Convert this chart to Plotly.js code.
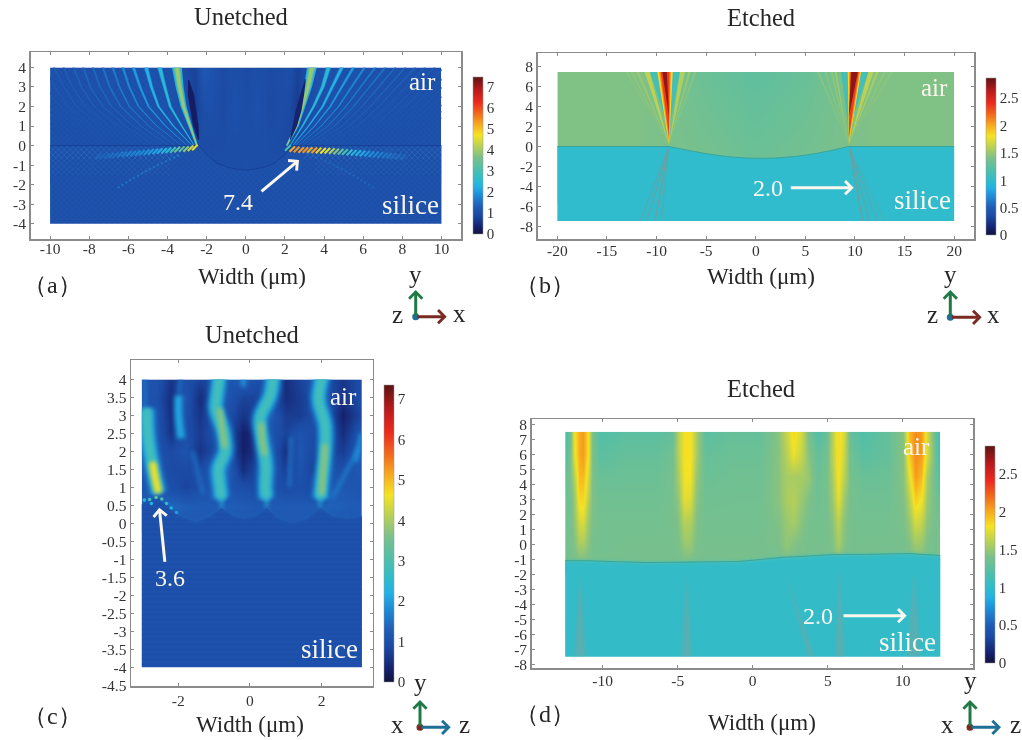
<!DOCTYPE html>
<html><head><meta charset="utf-8">
<script src="https://cdn.plot.ly/plotly-3.0.1.min.js"></script>
<style>html,body{margin:0;padding:0;background:#fff}#chart{width:1022px;height:740px;filter:blur(0.5px)}
.subplot.x3y3 .scatterlayer .js-line{filter:blur(2.2px)}
.subplot.xy .scatterlayer .js-fill{filter:blur(0.5px)}
.subplot.x4y4 .scatterlayer .js-fill{filter:blur(1.6px)}
.subplot.x2y2 .scatterlayer .js-fill{filter:blur(0.4px)}
</style>
</head><body><div id="chart"></div>
<script>
// ---------- values ----------
const ticksAx=[-10,-8,-6,-4,-2,0,2,4,6,8,10], ticksAy=[-4,-3,-2,-1,0,1,2,3,4];
const ticksBx=[-20,-15,-10,-5,0,5,10,15,20], ticksBy=[-8,-6,-4,-2,0,2,4,6,8];
const ticksCx=[-2,0,2], ticksCy=[-4.5,-4,-3.5,-3,-2.5,-2,-1.5,-1,-0.5,0,0.5,1,1.5,2,2.5,3,3.5,4];
const ticksDx=[-10,-5,0,5,10], ticksDy=[-8,-7,-6,-5,-4,-3,-2,-1,0,1,2,3,4,5,6,7,8];
const barTicksA=[0,1,2,3,4,5,6,7], barTicksB=[0,0.5,1,1.5,2,2.5];

// panel a: background and interface
const aBaseX=[-10,-3.4,-3,-2.6,-2.2,-1.8,-1.2,-0.6,0,0.6,1.2,1.8,2.2,2.6,3,3.4,10];
const aBaseY=[-1.3,0,2,4];
const aBaseZ=[
 [1,1,1,1,1,1,1,1,1,1,1,1,1,1,1,1,1],
 [1,1,1,1,0.95,0.92,0.95,0.98,1,0.98,0.95,0.92,0.85,1,1,1,1],
 [1,1,1,0.75,1,1.05,0.9,1.05,0.95,1.05,0.9,0.95,0.9,0.7,1,1,1],
 [1,1,0.85,0.8,1.25,1.1,0.92,1,0.9,1,0.92,0.95,1.0,0.8,0.9,1,1]];
const aIfaceX=[-10,-2.35,-2,-1.47,-1,-0.5,0,0.5,1,1.47,2,2.35,10];
const aIfaceY=[0,0,-0.47,-0.9,-1.08,-1.2,-1.25,-1.2,-1.08,-0.9,-0.47,0,0];
const aLevels=[0,1,2,3,4];
const aRightX=[[2.1,2.61,2.9,3.18,3.38],[2.27,2.9,3.47,3.93,4.23],[2.41,3.21,3.93,4.44,4.91],[2.53,3.52,4.32,4.91,5.5],[2.7,3.86,4.74,5.39,6.07],[2.9,4.2,5.12,5.85,6.62],[3.12,4.54,5.51,6.31,7.13],[3.38,4.92,5.94,6.79,7.64],[3.65,5.3,6.37,7.27,8.15],[3.95,5.7,6.8,7.75,8.65],[4.25,6.1,7.25,8.2,9.15],[4.55,6.5,7.7,8.65,9.65],[4.85,6.9,8.15,9.12,10.15],[5.15,7.3,8.6,9.6,10.65],[5.5,7.7,9.05,10.05,11.15],[5.85,8.1,9.5,10.55,11.6],[6.2,8.5,9.95,11,12],[6.55,8.95,10.4,11.5,12.5],[6.9,9.4,10.9,12,13]];
const aLeftX=[[-2.5,-2.84,-3.18,-3.38,-3.52],[-2.63,-3.27,-3.86,-4.15,-4.4],[-2.75,-3.7,-4.46,-4.82,-5.09],[-3,-4.1,-4.97,-5.4,-5.74],[-3.27,-4.55,-5.48,-5.95,-6.28],[-3.6,-4.95,-5.95,-6.45,-6.8],[-3.95,-5.35,-6.4,-6.95,-7.3],[-4.3,-5.75,-6.85,-7.45,-7.8],[-4.65,-6.15,-7.3,-7.95,-8.3],[-5,-6.55,-7.75,-8.4,-8.8],[-5.35,-7,-8.2,-8.85,-9.3],[-5.7,-7.4,-8.65,-9.3,-9.8],[-6.05,-7.8,-9.1,-9.75,-10.3],[-6.4,-8.2,-9.55,-10.2,-10.8],[-6.75,-8.6,-10,-10.7,-11.3],[-7.1,-9,-10.45,-11.2,-11.8],[-7.45,-9.4,-10.9,-11.7,-12.3],[-7.8,-9.8,-11.4,-12.2,-12.8],[-8.15,-10.2,-11.9,-12.7,-13.3]];
const aStripeV=[3.4,2.5,2.3,2.0,1.8,1.65,1.55,1.45,1.4,1.35,1.3,1.28,1.25,1.22,1.2,1.2,1.18,1.18,1.15];
const aStripeHalf=[0.17,0.09,0.08,0.065,0.055,0.05,0.05,0.045,0.045,0.045,0.04,0.04,0.04,0.04,0.04,0.04,0.04,0.04,0.04];
const aStripeCore=[3.9,0,0,0,0,0,0,0,0,0,0,0,0,0,0,0,0,0,0];
const aDarkRY=[0.3,1,1.8,2.6,3.4], aDarkRX=[2.27,2.5,2.7,2.88,3.05], aDarkLY=[0.3,1,1.82,2.6,3.36], aDarkLX=[-2.41,-2.55,-2.67,-2.8,-2.92];
const aDarkRHalf=[0.02,0.12,0.15,0.1,0.02], aDarkLHalf=[0.03,0.14,0.16,0.16,0.03];
const aDashRX=[2.15,2.38,2.6,2.83,3.05,3.27,3.5,3.72,3.95,4.17,4.4,4.62,4.85,5.07,5.3,5.52,5.75,5.97,6.2,6.42,6.65,6.87,7.1,7.32,7.55,7.8,8.05];
const aDashRY=[-0.12,-0.18,-0.2,-0.22,-0.22,-0.22,-0.24,-0.25,-0.26,-0.26,-0.28,-0.3,-0.32,-0.33,-0.35,-0.37,-0.38,-0.4,-0.42,-0.44,-0.46,-0.48,-0.5,-0.52,-0.55,-0.57,-0.6];
const aDashRV=[3,5.2,5.4,5.3,5.4,5.2,5.3,4.9,4.7,4.5,4.2,3.8,3.4,3,2.7,2.4,2.3,2.15,2,1.9,1.8,1.7,1.6,1.6,1.5,1.5,1.4];
const aDashLX=[-2.6,-2.82,-3.05,-3.27,-3.5,-3.72,-3.95,-4.17,-4.4,-4.62,-4.85,-5.07,-5.3,-5.52,-5.75,-5.97,-6.2,-6.42,-6.65,-6.87,-7.1,-7.32,-7.55];
const aDashLY=[-0.1,-0.14,-0.17,-0.18,-0.2,-0.22,-0.24,-0.26,-0.28,-0.3,-0.32,-0.34,-0.36,-0.38,-0.4,-0.42,-0.44,-0.46,-0.48,-0.5,-0.52,-0.54,-0.56];
const aDashLV=[4.5,4.3,3.8,3.2,3.4,2.9,2.5,2.4,2.2,2.1,2,1.9,1.8,1.8,1.7,1.7,1.6,1.6,1.5,1.5,1.4,1.4,1.4];
const aRayLX=[-3.4,-4.2,-5,-5.8,-6.6], aRayLY=[-0.5,-0.85,-1.25,-1.7,-2.2], aRayRX=[3.4,4.2,5,5.8,6.6], aRayRY=[-0.5,-0.85,-1.25,-1.7,-2.2];

// panel b
const bBaseX=[-20,-12,-9,-5,0,5,9,12,20], bBaseY=[-1.3,7.5];
const bBaseZ=[[1.42,1.42,1.4,1.38,1.33,1.37,1.4,1.42,1.42],[1.42,1.42,1.4,1.32,1.27,1.31,1.4,1.42,1.42]];
const bIfaceX=[-20,-8.74,-7,-5,-3,-1,0.5,2,4,6,8,9.38,20];
const bIfaceY=[0,0,-0.35,-0.72,-1,-1.16,-1.2,-1.16,-1,-0.72,-0.32,0,0];
const bLeftApex=[-8.74,0.15], bRightApex=[9.38,0.15];
const bLeftL=[-13.1,-12.6,-12.05,-11.2,-10.65,-8.37,-7.64,-6.8,-6.2,-9.92,-9.72,-9.58,-9.41];
const bLeftR=[-12.95,-12.4,-11.75,-10.7,-9.92,-7.64,-7.13,-6.56,-6,-8.37,-8.57,-8.7,-8.97];
const bLeftV=[1.47,1.48,1.5,1.62,1.12,1.12,1.58,1.5,1.46,1.85,2.1,2.35,2.75];
const bLeftApexY=[0.15,0.15,0.15,0.15,1.6,1.6,0.15,0.15,0.15,0.15,0.5,1,3];
const bRightL=[6.2,6.95,7.55,7.95,8.6,10.62,11.36,12.1,12.9,13.6,9.28,9.42,9.55,9.62];
const bRightR=[6.4,7.1,7.75,8.15,9.28,11.36,11.86,12.4,13.1,13.8,10.62,10.5,10.38,10.28];
const bRightV=[1.46,1.46,1.48,1.52,1.12,1.12,1.62,1.54,1.48,1.46,1.85,2.1,2.35,2.75];
const bRightApexY=[0.15,0.15,0.15,0.15,1.6,1.6,0.15,0.15,0.15,0.15,0.15,0.5,1,3];
const bRayLEnd=[-11.66,-10.98,-10.15,-9.48], bRayREnd=[10.78,11.46,12.26,12.97];
const bRayLOp=[0.45,0.55,0.8,0.45], bRayROp=[0.8,0.55,0.45,0.3];

// panel c
const cBaseX=[-3,-2.6,-2.2,-1.8,-1.4,-1,-0.6,-0.2,0.2,0.6,1,1.4,1.8,2.2,2.6,3.13];
const cBaseY=[0,0.5,1,1.5,2,2.5,3,3.5,4];
const cRow4=[1,1.1,0.6,1,0.8,0.9,1.1,1.3,1,1.2,0.5,0.8,1.1,0.9,0.6,1];
const cRow35=[1.1,1,0.5,1.1,0.5,0.9,1.1,0.8,0.8,1.1,0.5,0.7,1,1,0.6,1];
const cRow3=[1.2,1.1,0.5,1,0.6,1,1,0.6,0.8,1.2,0.7,0.7,1,1,0.3,0.9];
const cRow25=[1.3,1.1,0.6,1,0.7,1,1,0.3,0.5,1.1,0.8,1.1,0.9,1.1,0.5,1.2];
const cRow2=[1.3,1.1,0.9,1.1,0.6,0.9,1.1,0.3,0.6,1.2,0.5,1.2,0.8,0.9,0.7,1.3];
const cRow15=[1.2,1.2,0.9,0.9,0.9,1.3,1.3,0.5,0.9,1.2,0.7,1.1,0.7,1.1,1,1.2];
const cRow1=[1.1,1.3,1,0.8,1,1.2,1.1,1,0.9,1.1,0.9,1,0.9,1.2,1.2,1.1];
const cRow05=[1.3,1.4,1.4,1.3,1.25,1.25,1.3,1.25,1.2,1.25,1.25,1.25,1.25,1.35,1.3,1.25];
const cRow0=[1.2,1.2,1.2,1.2,1.2,1.2,1.2,1.2,1.2,1.2,1.2,1.2,1.2,1.2,1.2,1.2];
const cIfaceX=[-3.02,-2.6,-2.3,-2,-1.5,-1.1,-0.8,-0.5,-0.15,0.2,0.47,0.8,1.2,1.6,1.97,2.3,2.7,3.13];
const cIfaceY=[0.53,0.72,0.5,0.22,0.02,0.2,0.42,0.22,0.12,0.22,0.42,0.12,0,0.12,0.42,0.2,0.12,0.2];
const cStreak1X=[-2.88,-2.85,-2.74,-2.63,-2.55], cStreak1Y=[3.19,2.45,1.71,1.16,0.85];
const cStreak2X=[-0.83,-0.92,-0.95,-0.74,-0.69,-0.875,-0.83,-0.8], cStreak2Y=[4.2,3.56,3.19,2.55,1.99,1.53,0.97,0.7];
const cStreak3X=[0.66,0.57,0.29,0.35,0.45,0.43,0.46], cStreak3Y=[4.2,3.56,2.92,2.27,1.62,0.97,0.7];
const cStreak4X=[2.06,1.92,2.1,2.1,2.01,1.97], cStreak4Y=[4.2,3.47,2.73,2,1.16,0.7];
const cTailX=[-0.79,0.47,1.96], cTailTop=[0.95,0.95,0.95], cTailEnd=[0.44,0.44,0.46];
const cSmallX=[-1.99,-1.99,-1.92], cSmallY=[3.56,3.01,2.36];
const cCore1X=[-2.72,-2.64,-2.55], cCore1Y=[1.7,1.25,0.85];
const cCore2X=[-0.85,-0.76,-0.7], cCore2Y=[3.2,2.55,2.1];
const cCore3X=[0.32,0.35,0.42], cCore3Y=[2.8,2.3,1.9];
const cCore4X=[2.1,2.06,2.0], cCore4Y=[2.2,1.6,0.8];
const cFaintX0=[2.3,1.1,-1.3,-0.18,-2.92,-1.92,2.95], cFaintY0=[0.7,1,0.8,3.8,3.2,4.1,1.7];
const cFaintX1=[3.05,1.15,-1.6,-0.18,-2.95,-1.98,3.12], cFaintY1=[2.1,2.4,2,4.1,4.1,3.6,2.5];
const cFaintV=[1.6,1.5,1.45,2,1.5,1.45,1.9];
const cDotX=[-2.95,-2.8,-2.62,-2.46,-2.33,-2.2,-2.05,-2.75], cDotY=[0.65,0.66,0.72,0.68,0.55,0.43,0.3,0.55];
const cDotV=[2.6,2.8,3.2,3,2.6,2.3,2,2.2];

// panel d
const dBaseX=[-12.5,-12.2,-11.9,-11.6,-11.3,-11,-10.7,-10.2,-8.5,-6.5,-5.4,-5,-4.6,-4.2,-3.8,-3.2,-1.5,0.5,1.7,2.2,2.7,3.2,3.7,4.3,4.9,5.3,5.7,6.1,6.5,7.3,9,10,10.4,10.8,11.2,11.6,12.5];
const dBaseY=[-1.3,0,1.5,3,4.5,6,7.5];
const dRow75=[1.15,1.35,1.8,2,2.05,1.8,1.4,1.2,1.25,1.25,1.3,1.6,1.82,1.82,1.55,1.25,1.3,1.3,1.45,1.65,1.85,1.7,1.4,1.2,1.3,1.6,1.85,1.7,1.3,1.2,1.3,1.45,1.95,2.1,2.05,1.7,1.05];
const dRow6=[1.2,1.4,1.75,2,2.05,1.8,1.4,1.25,1.3,1.3,1.35,1.6,1.82,1.82,1.55,1.3,1.33,1.33,1.45,1.6,1.78,1.65,1.45,1.3,1.35,1.6,1.85,1.65,1.35,1.25,1.3,1.45,1.9,2.1,2.05,1.7,1.1];
const dRow45=[1.3,1.4,1.6,1.95,1.95,1.7,1.4,1.32,1.33,1.33,1.38,1.55,1.8,1.8,1.5,1.33,1.35,1.35,1.45,1.55,1.55,1.55,1.5,1.33,1.38,1.55,1.82,1.6,1.38,1.32,1.33,1.45,1.75,2.05,1.95,1.55,1.2];
const dRow3=[1.33,1.38,1.5,1.85,1.85,1.6,1.42,1.35,1.35,1.35,1.38,1.48,1.75,1.72,1.45,1.35,1.36,1.36,1.45,1.55,1.6,1.5,1.42,1.35,1.38,1.5,1.75,1.5,1.38,1.35,1.35,1.42,1.6,1.88,1.8,1.5,1.3];
const dRow15=[1.35,1.38,1.48,1.7,1.72,1.5,1.4,1.37,1.37,1.37,1.38,1.43,1.6,1.58,1.42,1.37,1.37,1.37,1.42,1.5,1.55,1.45,1.38,1.37,1.38,1.45,1.62,1.45,1.38,1.37,1.37,1.4,1.5,1.7,1.65,1.45,1.35];
const dRow0=[1.37,1.38,1.43,1.55,1.55,1.45,1.38,1.37,1.38,1.38,1.38,1.4,1.5,1.5,1.4,1.38,1.38,1.38,1.4,1.48,1.43,1.4,1.38,1.38,1.38,1.42,1.55,1.42,1.38,1.38,1.38,1.38,1.42,1.52,1.5,1.4,1.37];
const dRowBase=[1.38,1.38,1.38,1.38,1.38,1.38,1.38,1.38,1.38,1.38,1.38,1.38,1.38,1.38,1.38,1.38,1.38,1.38,1.38,1.38,1.38,1.38,1.38,1.38,1.38,1.38,1.38,1.38,1.38,1.38,1.38,1.38,1.38,1.38,1.38,1.38,1.38];
const dIfaceX=[-12.5,-11,-9,-7,-5,-3,-1,0.5,2,3.5,5.5,7.5,10.5,12.5];
const dIfaceY=[-1.05,-1.1,-1.17,-1.22,-1.2,-1.2,-1.15,-1.02,-0.87,-0.8,-0.68,-0.68,-0.62,-0.76];
const dShadowTopX=[-11.5,-4.4,2.2,5.8,10.75], dShadowEndX=[-11.5,-4.4,3.9,5.8,10.75];
const dShadowTopY=[-2,-2,-2,-1.5,-1.8], dShadowHalf=[0.38,0.34,0.2,0.3,0.42];

// ---------- colour scale (same for all panels) ----------
const scalePos=[0,0.04,0.12,0.17,0.25,0.30,0.35,0.42,0.49,0.56,0.63,0.70,0.76,0.84,0.92,1];
const scaleHex=['#12123c','#151f6a','#1b4aa4','#1f5ab4','#1d8ed8','#23b0e6','#30bccb','#52bfa8','#7cc08a','#b9d155','#f5e324','#f7a81f','#f2701c','#ec2a1e','#b81a1c','#5c1414'];
const colorscale=scalePos.map((p,i)=>[p,scaleHex[i]]);
const rgb=h=>[1,3,5].map(i=>parseInt(h.slice(i,i+2),16));
function colorOf(v,zmax){
  const t=Math.min(1,Math.max(0,v/zmax));
  let i=0; while(i<scalePos.length-2 && t>scalePos[i+1]) i++;
  const f=(t-scalePos[i])/(scalePos[i+1]-scalePos[i]), a=rgb(scaleHex[i]), b=rgb(scaleHex[i+1]);
  return 'rgb('+a.map((c,k)=>Math.round(c+(b[k]-c)*f)).join(',')+')';
}

// ---------- layout helpers: pixel boxes ----------
const W=1022,H=740;
const px=x=>x/W, py=y=>1-y/H;
const frames={
 a:{l:30.5,r:461,t:52,b:239,xr:[-11,11],yr:[-4.78,4.79],hx:[-10,10],hy:[-4,4],tx:ticksAx,ty:ticksAy,cb:[472.5,77,157],zmax:7.45,so:-5},
 b:{l:537.5,r:974,t:53,b:239,xr:[-22,22],yr:[-9.3,9.4],hx:[-20,20],hy:[-7.5,7.5],tx:ticksBx,ty:ticksBy,cb:[986,78,157],zmax:2.87,so:-3},
 c:{l:131,r:372.7,t:360,b:686,xr:[-3.32,3.43],yr:[-4.52,4.54],hx:[-3.02,3.13],hy:[-4,4],tx:ticksCx,ty:ticksCy,cb:[384,385,297],zmax:7.35,so:0},
 d:{l:531.7,r:973.3,t:419.3,b:668.3,xr:[-14.73,14.7],yr:[-8.27,8.33],hx:[-12.5,12.5],hy:[-7.5,7.5],tx:ticksDx,ty:ticksDy,cb:[985,446,217],zmax:2.87,so:-2}
};
// heat axes (clip the field to its rectangle) and frame axes (carry the ticks)
const ids={a:['x','y','xaxis','yaxis','x5','y5','xaxis5','yaxis5'],b:['x2','y2','xaxis2','yaxis2','x6','y6','xaxis6','yaxis6'],c:['x3','y3','xaxis3','yaxis3','x7','y7','xaxis7','yaxis7'],d:['x4','y4','xaxis4','yaxis4','x8','y8','xaxis8','yaxis8']};
const traces=[];
const layout={width:W,height:H,margin:{l:0,r:0,t:0,b:0,autoexpand:false},paper_bgcolor:'#fff',plot_bgcolor:'rgba(0,0,0,0)',showlegend:false,
  font:{family:'"Liberation Serif",serif',color:'#2b2b2b'},annotations:[],shapes:[]};

Object.keys(frames).forEach(k=>{
  const f=frames[k],id=ids[k];
  const tf={size:15.5,color:'#333',family:'"Liberation Serif",serif'};
  const ax={showgrid:false,zeroline:false,showline:true,mirror:'ticks',linecolor:'#8b8b8b',linewidth:1.5,ticks:'inside',ticklen:3,tickwidth:1,tickcolor:'#8b8b8b',tickmode:'array',tickfont:tf};
  layout[id[6]]=Object.assign({},ax,{domain:[px(f.l),px(f.r)],range:f.xr,anchor:id[5],tickvals:f.tx,ticktext:f.tx.map(String),ticklabelstandoff:f.so});
  layout[id[7]]=Object.assign({},ax,{domain:[py(f.b),py(f.t)],range:f.yr,anchor:id[4],tickvals:f.ty,ticktext:f.ty.map(String)});
  const hl=f.l+(f.hx[0]-f.xr[0])/(f.xr[1]-f.xr[0])*(f.r-f.l), hr=f.l+(f.hx[1]-f.xr[0])/(f.xr[1]-f.xr[0])*(f.r-f.l);
  const hb=f.b-(f.hy[0]-f.yr[0])/(f.yr[1]-f.yr[0])*(f.b-f.t), ht=f.b-(f.hy[1]-f.yr[0])/(f.yr[1]-f.yr[0])*(f.b-f.t);
  layout[id[2]]={visible:false,domain:[px(hl),px(hr)],range:f.hx,anchor:id[1],fixedrange:true};
  layout[id[3]]={visible:false,domain:[py(hb),py(ht)],range:f.hy,anchor:id[0],fixedrange:true};
});

function heat(k,x,y,z,ticks,labels){
  const f=frames[k];
  traces.push({type:'heatmap',x,y,z,xaxis:ids[k][0],yaxis:ids[k][1],zsmooth:'best',zmin:0,zmax:f.zmax,colorscale,hoverinfo:'skip',
    colorbar:{x:px(f.cb[0]),xanchor:'left',xref:'paper',y:py(f.cb[1]),yanchor:'top',yref:'paper',thickness:9.5,thicknessmode:'pixels',len:f.cb[2],lenmode:'pixels',
      xpad:0,ypad:0,outlinewidth:0.5,outlinecolor:'#999',borderwidth:0,ticks:'',tickmode:'array',tickvals:ticks,ticktext:labels||ticks.map(String),
      tickfont:{size:15,color:'#333',family:'"Liberation Serif",serif'}}});
  traces.push({type:'scatter',mode:'markers',x:[f.hx[0]],y:[f.hy[0]],xaxis:ids[k][4],yaxis:ids[k][5],marker:{size:1,opacity:0},hoverinfo:'skip'});
}
function poly(k,x,y,fill,extra){
  traces.push(Object.assign({type:'scatter',mode:'lines',x,y,xaxis:ids[k][0],yaxis:ids[k][1],fill:'toself',fillcolor:fill,line:{width:0},hoverinfo:'skip'},extra||{}));
}
function line(k,x,y,color,width,extra){
  traces.push(Object.assign({type:'scatter',mode:'lines',x,y,xaxis:ids[k][0],yaxis:ids[k][1],line:{color,width},hoverinfo:'skip'},extra||{}));
}
function ribbon(k,xs,ys,half,fill,taper){
  const t=ys.map((y,i)=>half*(taper+(1-taper)*i/(ys.length-1)));
  poly(k,xs.map((x,i)=>x-t[i]).concat(xs.map((x,i)=>x+t[i]).reverse()),ys.concat(ys.slice().reverse()),fill);
}
function lens(k,xs,ys,halves,fill){
  poly(k,xs.map((x,i)=>x-halves[i]).concat(xs.map((x,i)=>x+halves[i]).reverse()),ys.concat(ys.slice().reverse()),fill);
}
function silica(k,X,Y,bottom,value,extra){
  // the outline runs past the clip rectangle so blurred edges stay solid
  const n=X.length,pad=X[n-1]-X[0],drop=Math.abs(bottom);
  poly(k,[X[0]-pad].concat(X,[X[n-1]+pad,X[n-1]+pad,X[0]-pad]),[Y[0]].concat(Y,[Y[n-1],bottom-drop,bottom-drop]),colorOf(value,frames[k].zmax),extra);
}

// ---------- panel a ----------
const hatch=(size,sol,col,op)=>({fillpattern:{shape:'x',size,solidity:sol,fgcolor:col,fgopacity:op,fillmode:'overlay'}});
heat('a',aBaseX,aBaseY,aBaseZ,barTicksA);
[[3.6,10],[-10,-3.6]].forEach(r=>poly('a',[r[0],r[1],r[1],r[0]],[0,0,4,4],'rgba(0,0,0,0)',hatch(4,0.2,'#3a86cf',0.22)));
aLeftX.concat(aRightX).forEach((xs,i)=>{
  const j=i%aStripeV.length,v=aStripeV[j];
  ribbon('a',xs,aLevels,aStripeHalf[j]*1.5,colorOf(1+(v-1)*0.5,7.45),0.2);
  ribbon('a',xs,aLevels,aStripeHalf[j],colorOf(v,7.45),0.15);
  if(aStripeCore[j]) ribbon('a',xs,aLevels,aStripeHalf[j]*0.55,colorOf(aStripeCore[j],7.45),0.3);
});
lens('a',aDarkRX,aDarkRY,aDarkRHalf,colorOf(0.35,7.45));
lens('a',aDarkLX,aDarkLY,aDarkLHalf,colorOf(0.25,7.45));
silica('a',aIfaceX,aIfaceY,-4,1,Object.assign({line:{width:1,color:colorOf(0.75,7.45)}},hatch(4,0.14,'#3a86cf',0.28)));
[[3,10],[-10,-3.4]].forEach(r=>poly('a',[r[0],r[1],r[1],r[0]],[-0.05,-0.05,-0.7,-0.7],'rgba(0,0,0,0)',hatch(4,0.22,'#4ca8dc',0.4)));
[[3.5,10],[-10,-3.9]].forEach(r=>poly('a',[r[0],r[1],r[1],r[0]],[-0.7,-0.7,-1.5,-1.5],'rgba(0,0,0,0)',hatch(4,0.2,'#4ca8dc',0.2)));
line('a',aRayLX,aRayLY,'',0,{line:{color:colorOf(1.6,7.45),width:2,dash:'2px,2.5px'}});
line('a',aRayRX,aRayRY,'',0,{line:{color:colorOf(1.4,7.45),width:2,dash:'2px,2.5px'}});
[[aDashRX,aDashRY,aDashRV],[aDashLX,aDashLY,aDashLV]].forEach(s=>s[0].forEach((x,i)=>{
  line('a',[x-0.14,x+0.14],[s[1][i]-0.14,s[1][i]+0.14],colorOf(s[2][i],7.45),2.1);
}));

// ---------- panel b ----------
heat('b',bBaseX,bBaseY,bBaseZ,barTicksB);
bLeftL.forEach((l,i)=>poly('b',[bLeftApex[0],l,bLeftR[i]],[bLeftApexY[i],7.5,7.5],colorOf(bLeftV[i],2.87)));
bRightL.forEach((l,i)=>poly('b',[bRightApex[0],l,bRightR[i]],[bRightApexY[i],7.5,7.5],colorOf(bRightV[i],2.87)));
silica('b',bIfaceX,bIfaceY,-7.5,1,{line:{width:1,color:'#3aa59a'}});
bRayLEnd.forEach((e,i)=>line('b',[bLeftApex[0]-0.1,e],[-0.3,-7.5],'#7b9a96',1.5,{opacity:bRayLOp[i]}));
bRayREnd.forEach((e,i)=>line('b',[bRightApex[0]+0.1,e],[-0.3,-7.5],'#7b9a96',1.5,{opacity:bRayROp[i]}));

// ---------- panel c ----------
heat('c',cBaseX,cBaseY,[cRow0,cRow05,cRow1,cRow15,cRow2,cRow25,cRow3,cRow35,cRow4],barTicksA);
cFaintX0.forEach((x,i)=>line('c',[x,cFaintX1[i]],[cFaintY0[i],cFaintY1[i]],colorOf(cFaintV[i],7.35),4));
cTailX.forEach((x,i)=>{
  line('c',[x,x],[cTailTop[i],cTailEnd[i]+0.2],colorOf(2.2,7.35),6);
  line('c',[x,x],[cTailTop[i]-0.2,cTailEnd[i]],colorOf(2.4,7.35),2.5);
});
[[cStreak1X,cStreak1Y],[cStreak2X,cStreak2Y],[cStreak3X,cStreak3Y],[cStreak4X,cStreak4Y]].forEach(s=>{
  line('c',s[0],s[1],'',0,{line:{color:colorOf(1.7,7.35),width:19,shape:'spline'},opacity:0.5});
  line('c',s[0],s[1],'',0,{line:{color:colorOf(2.3,7.35),width:13,shape:'spline'}});
  line('c',s[0],s[1],'',0,{line:{color:colorOf(2.9,7.35),width:7,shape:'spline'}});
});
line('c',cSmallX,cSmallY,'',0,{line:{color:colorOf(2.1,7.35),width:8,shape:'spline'}});
[[cCore1X,cCore1Y,4.6,7],[cCore2X,cCore2Y,3.7,6],[cCore3X,cCore3Y,3.7,6],[cCore4X,cCore4Y,3.7,6]].forEach(s=>{
  line('c',s[0],s[1],'',0,{line:{color:colorOf(s[2],7.35),width:s[3],shape:'spline'}});
});
silica('c',cIfaceX,cIfaceY,-4,1,{line:{width:0.8,color:colorOf(1.5,7.35)},fillpattern:{shape:'-',size:5,solidity:0.2,fgcolor:'#2a63b8',fgopacity:0.25,fillmode:'overlay'}});
traces.push({type:'scatter',mode:'markers',x:cDotX,y:cDotY,xaxis:'x3',yaxis:'y3',hoverinfo:'skip',marker:{size:3.5,color:cDotV.map(v=>colorOf(v,7.35))}});

// ---------- panel d ----------
heat('d',dBaseX,dBaseY,[dRowBase,dRow0,dRow15,dRow3,dRow45,dRow6,dRow75],barTicksB);
silica('d',dIfaceX,dIfaceY,-7.5,1.02,{line:{width:1,color:'#3aa59a'}});
dShadowTopX.forEach((x,i)=>{
  const half=dShadowHalf[i];
  poly('d',[x,dShadowEndX[i]-half,dShadowEndX[i]+half],[dShadowTopY[i],-7.5,-7.5],'#7fa39c',{opacity:0.5});
});

// ---------- text ----------
const white='#fbf7ee';
function txt(s,x,y,size,color){layout.annotations.push({text:s,xref:'paper',yref:'paper',x:px(x),y:py(y),xanchor:'center',yanchor:'middle',showarrow:false,font:{size,color:color||'#262626',family:'"Liberation Serif",serif'}});}
function arrow(x0,y0,x1,y1,color,w){layout.annotations.push({text:'',xref:'paper',yref:'paper',x:px(x1),y:py(y1),axref:'pixel',ayref:'pixel',ax:x0-x1,ay:y0-y1,showarrow:true,arrowhead:4,arrowsize:0.85,arrowwidth:w,arrowcolor:color,standoff:0});}
function triad(ox,oy,up,right,c2,c3,labels,lp){
  arrow(ox,oy,ox,up,'#1f7a45',3); arrow(ox,oy,right,oy,c2,3);
  layout.shapes.push({type:'circle',xref:'paper',yref:'paper',x0:px(ox-3.5),x1:px(ox+3.5),y0:py(oy+3.5),y1:py(oy-3.5),fillcolor:c3,line:{width:0}});
  labels.forEach((s,i)=>txt(s,lp[i][0],lp[i][1],25));
}
const maroon='#7a2a20',teal='#1f6f96';
const titleA='Unetched',titleB='Etched',xName='Width (μm)';
txt(titleA,241,16,24.5);txt(titleB,761,18,24.5);txt(titleA,252,334,24.5);txt(titleB,761,389,24.5);
txt(xName,252,276,23);txt(xName,761,276,23);txt(xName,250,724,23);txt(xName,761.5,722,23);
txt('（a）',52,285,24);txt('（b）',545,285,24);txt('（c）',52,716,24);txt('（d）',545,714,24);
txt('air',422.7,81,25,white);txt('silice',410,205,27,white);txt('7.4',237.7,201.7,24,white);
txt('air',934.3,87,25,white);txt('silice',922,200,27,white);txt('2.0',767.7,187.7,24,white);
txt('air',343.3,397,25,white);txt('silice',329,649,27,white);txt('3.6',170,577.7,24,white);
txt('air',916.7,446.7,25,white);txt('silice',907,641.7,27,white);txt('2.0',817.7,615.7,24,white);
arrow(260,192.7,299,160,white,3);arrow(789.3,187.7,853.7,187.7,white,3);arrow(165,563.3,159.3,507.7,white,3);arrow(842,615.7,906.7,615.7,white,3);
triad(415.7,316.7,290,446.7,maroon,teal,['y','z','x'],[[415,274],[397,314],[459,313]]);
triad(950.3,317.3,290,981.7,maroon,teal,['y','z','x'],[[950,274],[932,314],[993.7,314]]);
triad(420,727.3,700,450.7,teal,maroon,['y','x','z'],[[420,682],[397.3,724],[464.3,724]]);
triad(970,727.3,700,1001,teal,maroon,['y','x','z'],[[970,680],[947.7,724.3],[1015,724.3]]);

Plotly.newPlot('chart',traces,layout,{displayModeBar:false,staticPlot:true});
</script></body></html>
